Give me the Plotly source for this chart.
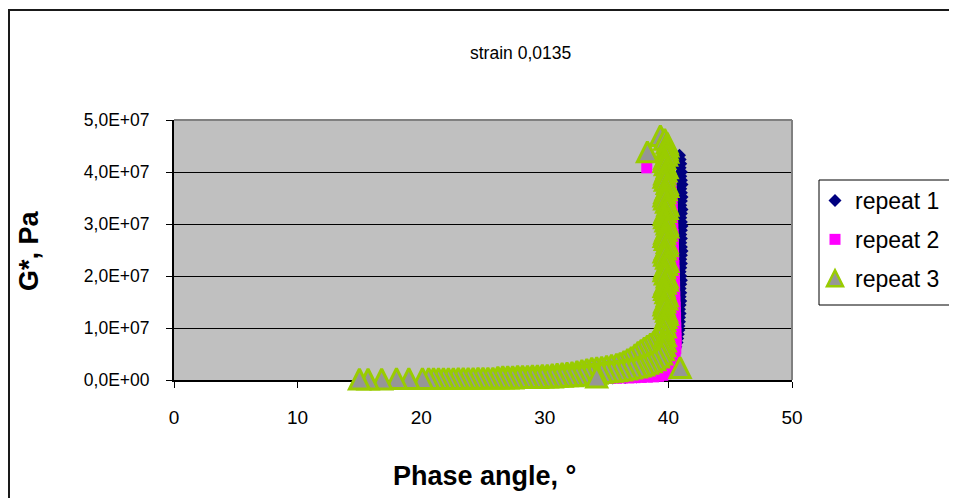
import plotly.graph_objects as go

# ---------------- data ----------------
title_text = "strain 0,0135"
x_title = "Phase angle, °"
y_title = "G*, Pa"

x_ticks = [0, 10, 20, 30, 40, 50]
y_tick_vals = [0, 1e7, 2e7, 3e7, 4e7, 5e7]
y_tick_text = ["0,0E+00", "1,0E+07", "2,0E+07", "3,0E+07", "4,0E+07", "5,0E+07"]

names = ["repeat 1", "repeat 2", "repeat 3"]

# repeat 1 (navy diamonds)
r1_phase = [40.9, 40.95, 41.0, 40.95, 41.05, 41.0, 41.05, 41.1, 41.0, 41.05,
            41.1, 41.05, 41.0, 41.1, 41.05, 41.0, 41.05, 41.1, 41.05, 41.0,
            41.05, 41.0, 41.05, 41.1, 41.05, 41.0, 41.05, 41.0, 40.95, 41.0,
            41.05, 41.0, 40.95, 41.0, 40.95, 41.0, 40.95, 40.9, 40.95, 40.9,
            40.9, 40.85, 40.85, 40.8, 40.75, 40.7, 40.6, 40.5, 40.4, 40.3,
            40.15, 40.0, 39.7, 39.3, 38.8, 38.2, 37.4, 36.5, 35.5]
r1_g = [4.32e7, 4.24e7, 4.16e7, 4.08e7, 4.00e7, 3.92e7, 3.84e7, 3.76e7, 3.68e7, 3.60e7,
        3.52e7, 3.44e7, 3.36e7, 3.28e7, 3.20e7, 3.12e7, 3.04e7, 2.96e7, 2.88e7, 2.80e7,
        2.72e7, 2.64e7, 2.56e7, 2.48e7, 2.40e7, 2.32e7, 2.24e7, 2.16e7, 2.08e7, 2.00e7,
        1.92e7, 1.84e7, 1.76e7, 1.68e7, 1.60e7, 1.52e7, 1.44e7, 1.36e7, 1.28e7, 1.20e7,
        1.12e7, 1.04e7, 0.96e7, 0.88e7, 0.80e7, 0.72e7, 0.64e7, 0.56e7, 0.48e7, 0.40e7,
        0.33e7, 0.26e7, 0.20e7, 0.15e7, 0.11e7, 0.08e7, 0.06e7, 0.05e7, 0.04e7]

# repeat 2 (magenta squares)
r2_phase = [34.8, 35.3, 35.8, 36.3, 36.8, 37.3, 37.8, 38.3, 38.8, 39.2,
            39.55, 39.8, 40.0, 40.15, 40.3, 40.4, 40.48, 40.55, 40.6, 40.62,
            40.62, 40.6, 40.6, 40.58, 40.58, 40.55, 40.55, 40.52, 40.52, 40.5,
            40.5, 40.48, 40.48, 40.45, 40.45, 40.42, 40.42, 40.4, 40.4, 40.38,
            40.38, 40.35, 40.35, 40.32, 40.32, 40.3, 40.3, 40.28, 40.25, 40.2,
            40.15, 40.1, 38.25]
r2_g = [0.03e7, 0.03e7, 0.035e7, 0.04e7, 0.04e7, 0.045e7, 0.05e7, 0.055e7, 0.06e7, 0.07e7,
        0.09e7, 0.12e7, 0.16e7, 0.21e7, 0.27e7, 0.34e7, 0.42e7, 0.50e7, 0.60e7, 0.70e7,
        0.80e7, 0.90e7, 1.00e7, 1.10e7, 1.20e7, 1.30e7, 1.40e7, 1.50e7, 1.60e7, 1.70e7,
        1.80e7, 1.90e7, 2.00e7, 2.10e7, 2.20e7, 2.30e7, 2.40e7, 2.50e7, 2.60e7, 2.70e7,
        2.80e7, 2.90e7, 3.00e7, 3.10e7, 3.20e7, 3.30e7, 3.40e7, 3.50e7, 3.60e7, 3.70e7,
        3.80e7, 3.90e7, 4.08e7]

# repeat 3 (green-outlined grey triangles), read in three branches + isolated points
# near-vertical branch, from the peak down
r3_top_phase = [39.35, 39.7, 39.9, 39.95, 39.9, 39.95, 39.85, 39.7, 39.65, 39.75,
                39.9, 39.8, 39.7, 39.65, 39.75, 39.9, 39.95, 39.8, 39.7, 39.65,
                39.7, 39.85, 39.95, 39.9, 39.75, 39.65, 39.7, 39.8, 39.9, 39.95,
                39.8, 39.7, 39.65, 39.75, 39.9, 39.9, 39.75, 39.65, 39.7, 39.85,
                39.95, 39.85, 39.7, 39.65, 39.75, 39.9, 39.9, 39.75, 39.65, 39.7,
                39.8, 39.9, 39.85, 39.7, 39.65, 39.7, 39.85, 39.9, 39.8, 39.7,
                39.65, 39.75]
r3_top_g = [4.70e7, 4.63e7, 4.56e7, 4.50e7, 4.44e7, 4.38e7, 4.32e7, 4.26e7, 4.20e7, 4.14e7,
            4.08e7, 4.02e7, 3.96e7, 3.90e7, 3.84e7, 3.78e7, 3.72e7, 3.66e7, 3.60e7, 3.54e7,
            3.48e7, 3.42e7, 3.36e7, 3.30e7, 3.24e7, 3.18e7, 3.12e7, 3.06e7, 3.00e7, 2.94e7,
            2.88e7, 2.82e7, 2.76e7, 2.70e7, 2.64e7, 2.58e7, 2.52e7, 2.46e7, 2.40e7, 2.34e7,
            2.28e7, 2.22e7, 2.16e7, 2.10e7, 2.04e7, 1.98e7, 1.92e7, 1.86e7, 1.80e7, 1.74e7,
            1.68e7, 1.62e7, 1.56e7, 1.50e7, 1.44e7, 1.38e7, 1.32e7, 1.26e7, 1.20e7, 1.14e7,
            1.08e7, 1.02e7]
# upper branch of the knee
r3_upper_phase = [39.6, 39.45, 39.25, 39.0, 38.8, 38.55, 38.3, 38.05, 37.8, 37.55,
                  37.3, 37.0, 36.7, 36.4, 36.1, 35.8, 35.4, 35.0, 34.6, 34.2,
                  33.8, 33.4, 33.0, 32.6, 32.2, 31.8, 31.4, 31.0, 30.6, 30.2,
                  29.8, 29.4, 29.0, 28.6, 28.2, 27.8, 27.4, 27.0, 26.6, 26.2]
r3_upper_g = [0.95e7, 0.88e7, 0.82e7, 0.77e7, 0.73e7, 0.70e7, 0.66e7, 0.62e7, 0.58e7, 0.54e7,
              0.49e7, 0.44e7, 0.40e7, 0.36e7, 0.33e7, 0.31e7, 0.29e7, 0.27e7, 0.25e7, 0.24e7,
              0.23e7, 0.21e7, 0.19e7, 0.17e7, 0.15e7, 0.14e7, 0.13e7, 0.12e7, 0.11e7, 0.10e7,
              0.10e7, 0.09e7, 0.09e7, 0.08e7, 0.08e7, 0.08e7, 0.07e7, 0.07e7, 0.07e7, 0.06e7]
# lower branch, running along the axis to the lowest phase angles
r3_lower_phase = [39.75, 39.75, 39.7, 39.6, 39.45, 39.2, 38.9, 38.6, 38.3, 38.0,
                  37.7, 37.4, 37.0, 36.6, 36.2, 35.8, 35.4, 35.0, 34.6, 34.2,
                  33.8, 33.4, 33.0, 32.6, 32.2, 31.8, 31.4, 31.0, 30.6, 30.2,
                  29.8, 29.4, 29.0, 28.6, 28.2, 27.8, 27.4, 27.0, 26.6, 26.2,
                  25.8, 25.4, 25.0, 24.6, 24.2, 23.8, 23.4, 23.0, 22.6, 22.2,
                  21.8, 21.4, 21.0, 20.6, 20.1, 19.0, 18.0, 16.8, 15.7, 15.0]
r3_lower_g = [0.85e7, 0.75e7, 0.66e7, 0.58e7, 0.50e7, 0.44e7, 0.39e7, 0.35e7, 0.32e7, 0.29e7,
              0.27e7, 0.25e7, 0.23e7, 0.21e7, 0.19e7, 0.18e7, 0.17e7, 0.16e7, 0.15e7, 0.13e7,
              0.12e7, 0.11e7, 0.10e7, 0.09e7, 0.08e7, 0.08e7, 0.07e7, 0.07e7, 0.06e7, 0.06e7,
              0.06e7, 0.05e7, 0.05e7, 0.05e7, 0.05e7, 0.05e7, 0.04e7, 0.04e7, 0.04e7, 0.04e7,
              0.04e7, 0.04e7, 0.04e7, 0.04e7, 0.035e7, 0.035e7, 0.035e7, 0.035e7, 0.03e7, 0.03e7,
              0.03e7, 0.03e7, 0.03e7, 0.03e7, 0.03e7, 0.03e7, 0.03e7, 0.02e7, 0.02e7, 0.02e7]
# isolated points
r3_iso_phase = [34.2, 38.3, 40.95]
r3_iso_g = [0.06e7, 4.39e7, 0.24e7]

r3_phase = r3_top_phase + r3_upper_phase + r3_lower_phase + r3_iso_phase
r3_g = r3_top_g + r3_upper_g + r3_lower_g + r3_iso_g

# ---------------- figure ----------------
# page body has an 8px margin, so the figure is drawn 8px in from the window
OFF = 8
W, H = 957 - OFF, 498 - OFF
PLOT_L, PLOT_R, PLOT_T, PLOT_B = 174, 792, 120, 380   # window pixel coords
L, T = PLOT_L - OFF, PLOT_T - OFF
PW, PH = PLOT_R - PLOT_L, PLOT_B - PLOT_T
R, B = W - L - PW, H - T - PH


def px(xp):
    """window x pixel -> paper fraction"""
    return (xp - PLOT_L) / PW


def py(yp):
    """window y pixel -> paper fraction"""
    return (PLOT_B - yp) / PH


FONT = "Liberation Sans, Arial, sans-serif"
TRI = 20

fig = go.Figure()

fig.add_trace(go.Scatter(
    x=r1_phase, y=r1_g, mode="markers", name=names[0], legendgroup="a",
    cliponaxis=False,
    marker=dict(symbol="diamond", size=10, color="#000080", line=dict(width=0)),
))
fig.add_trace(go.Scatter(
    x=r2_phase, y=r2_g, mode="markers", name=names[1], legendgroup="b",
    cliponaxis=False,
    marker=dict(symbol="square", size=11, color="#FF00FF", line=dict(width=0)),
))
# data trace for repeat 3 (excel-like triangle: height == width)
fig.add_trace(go.Scatter(
    x=r3_phase, y=r3_g, mode="markers", name=names[2], legendgroup="c",
    showlegend=False, cliponaxis=False,
    marker=dict(symbol="arrow-down", angle=180, standoff=TRI / 2, size=TRI,
                color="#969696", line=dict(width=3, color="#99CC00")),
))
# legend entry for repeat 3
fig.add_trace(go.Scatter(
    x=[None], y=[None], mode="markers", name=names[2], legendgroup="c",
    marker=dict(symbol="arrow-up", standoff=8, size=16,
                color="#969696", line=dict(width=2.5, color="#99CC00")),
))

shapes = [
    # outer chart frame
    dict(type="rect", xref="paper", yref="paper",
         x0=px(9), x1=px(990), y0=py(530), y1=py(10),
         line=dict(color="#1a1a1a", width=2), fillcolor="rgba(0,0,0,0)", layer="below"),
    # plot area top / right border
    dict(type="line", xref="paper", yref="paper", x0=0, x1=1, y0=1, y1=1,
         line=dict(color="#808080", width=2), layer="above"),
    dict(type="line", xref="paper", yref="paper", x0=1, x1=1, y0=0, y1=1,
         line=dict(color="#808080", width=2), layer="above"),
    # legend box
    dict(type="rect", xref="paper", yref="paper",
         x0=px(819), x1=px(953), y0=py(305), y1=py(180),
         line=dict(color="#000000", width=1), fillcolor="white", layer="below"),
]

annotations = [
    dict(text=title_text, xref="paper", yref="paper", x=px(520), y=py(53),
         showarrow=False, xanchor="center", yanchor="middle",
         font=dict(family=FONT, size=17.5, color="black")),
    dict(text="<b>" + x_title + "</b>", xref="paper", yref="paper", x=px(484), y=py(476),
         showarrow=False, xanchor="center", yanchor="middle",
         font=dict(family=FONT, size=27, color="black")),
    dict(text="<b>" + y_title + "</b>", xref="paper", yref="paper", x=px(29), y=py(251),
         showarrow=False, xanchor="center", yanchor="middle", textangle=-90,
         font=dict(family=FONT, size=27, color="black")),
]

fig.update_layout(
    width=W, height=H,
    margin=dict(l=L, r=R, t=T, b=B, pad=0),
    paper_bgcolor="white",
    plot_bgcolor="#C0C0C0",
    font=dict(family=FONT, size=18, color="black"),
    showlegend=True,
    legend=dict(x=px(815), y=py(179), xanchor="left", yanchor="top",
                bgcolor="rgba(0,0,0,0)", borderwidth=0,
                font=dict(family=FONT, size=23, color="black"),
                tracegroupgap=6, itemclick=False),
    shapes=shapes,
    annotations=annotations,
    xaxis=dict(range=[0, 50], tickvals=x_ticks, ticktext=[str(v) for v in x_ticks],
               showgrid=False, zeroline=False, showline=True, linecolor="#000000",
               linewidth=2, ticks="outside", ticklen=6, tickcolor="#000000",
               ticklabelstandoff=13, layer="below traces",
               tickfont=dict(family=FONT, size=19, color="black")),
    yaxis=dict(range=[0, 5e7], tickvals=y_tick_vals, ticktext=y_tick_text,
               showgrid=True, gridcolor="#000000", gridwidth=1, zeroline=False,
               showline=True, linecolor="#000000", linewidth=2, ticks="outside",
               ticklen=6, tickcolor="#000000", ticklabelstandoff=13,
               layer="below traces",
               tickfont=dict(family=FONT, size=17.5, color="black")),
)

fig.write_html("out.html")
